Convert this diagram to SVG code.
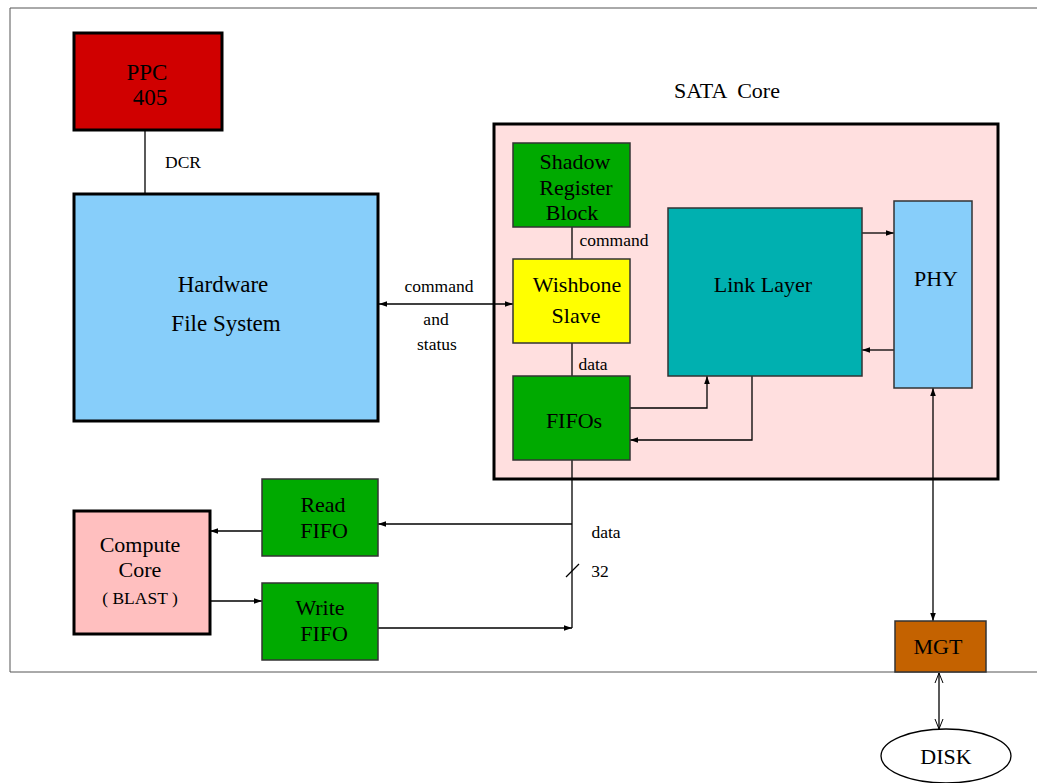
<svg xmlns="http://www.w3.org/2000/svg" width="1037" height="783" viewBox="0 0 1037 783">
<defs>
<style>
text{font-family:"Liberation Serif","Times New Roman",serif;fill:#000;text-anchor:middle}
.big{font-size:22px}
.hg{font-size:23px}
.sm{font-size:17.5px}
.thick{stroke:#000;stroke-width:3}
.thin{stroke:#333;stroke-width:1.5}
.ln{stroke:#000;stroke-width:1.3;fill:none}
</style>
<marker id="ah" viewBox="0 0 10 10" refX="10" refY="5" markerWidth="10" markerHeight="8" orient="auto-start-reverse" markerUnits="userSpaceOnUse"><path d="M0,1.5 L10,5 L0,8.5 z" fill="#000"/></marker>
<marker id="oa" viewBox="0 0 10 10" refX="10" refY="5" markerWidth="14" markerHeight="10" orient="auto-start-reverse" markerUnits="userSpaceOnUse"><path d="M0,1 L10,5 L0,9" fill="none" stroke="#000" stroke-width="1"/></marker>
</defs>
<rect width="1037" height="783" fill="#fff"/>
<path d="M1037,8 H10 V672 H1037" fill="none" stroke="#555" stroke-width="1"/>

<g id="sata-core">
<rect x="494" y="124" width="504" height="355" fill="#ffdfdf" class="thick"/>
<text x="727" y="98" class="big" xml:space="preserve" style="white-space:pre">SATA  Core</text>
</g>

<g id="connectors">
<line x1="145" y1="130" x2="145" y2="194" class="ln"/>
<text x="183" y="168" class="sm">DCR</text>
<line x1="379" y1="304" x2="513" y2="304" class="ln" marker-start="url(#ah)" marker-end="url(#ah)"/>
<text x="439" y="292" class="sm">command</text>
<text x="436" y="325" class="sm">and</text>
<text x="437" y="350" class="sm">status</text>
<line x1="572" y1="227" x2="572" y2="259" class="ln"/>
<text x="614" y="246" class="sm">command</text>
<line x1="572" y1="343" x2="572" y2="376" class="ln"/>
<text x="593" y="370" class="sm">data</text>
<line x1="862" y1="233" x2="894" y2="233" class="ln" marker-end="url(#ah)"/>
<line x1="894" y1="350" x2="862" y2="350" class="ln" marker-end="url(#ah)"/>
<polyline points="630,408 707,408 707,376" class="ln" marker-end="url(#ah)"/>
<polyline points="752,376 752,440 630,440" class="ln" marker-end="url(#ah)"/>
<line x1="933" y1="388" x2="933" y2="621" class="ln" marker-start="url(#ah)" marker-end="url(#ah)"/>
<line x1="939" y1="673" x2="939" y2="729" class="ln" marker-start="url(#oa)" marker-end="url(#oa)"/>
<line x1="572" y1="460" x2="572" y2="628" class="ln"/>
<line x1="378" y1="628" x2="572" y2="628" class="ln" marker-end="url(#ah)"/>
<line x1="572" y1="524" x2="378" y2="524" class="ln" marker-end="url(#ah)"/>
<line x1="566" y1="577" x2="579" y2="564" class="ln"/>
<text x="606" y="538" class="sm">data</text>
<text x="600" y="577" class="sm">32</text>
<line x1="262" y1="531" x2="210" y2="531" class="ln" marker-end="url(#ah)"/>
<line x1="210" y1="601" x2="262" y2="601" class="ln" marker-end="url(#ah)"/>
</g>

<g id="ppc405">
<rect x="74" y="33" width="148" height="97" fill="#d00000" class="thick"/>
<text x="147" y="80" class="hg">PPC</text>
<text x="150" y="105" class="hg">405</text>
</g>

<g id="hfs">
<rect x="74" y="194" width="304" height="227" fill="#87cefa" class="thick"/>
<text x="223" y="292" class="hg">Hardware</text>
<text x="226" y="331" class="hg">File System</text>
</g>

<g id="shadow">
<rect x="513" y="143" width="117" height="84" fill="#00aa00" class="thin"/>
<text x="575" y="169" class="big">Shadow</text>
<text x="576" y="195" class="big">Register</text>
<text x="572" y="220" class="big">Block</text>
</g>

<g id="wishbone">
<rect x="513" y="259" width="117" height="84" fill="#ffff00" class="thin"/>
<text x="577" y="292" class="big">Wishbone</text>
<text x="576" y="323" class="big">Slave</text>
</g>

<g id="fifos">
<rect x="513" y="376" width="117" height="84" fill="#00aa00" class="thin"/>
<text x="574" y="428" class="big">FIFOs</text>
</g>

<g id="linklayer">
<rect x="668" y="208" width="194" height="168" fill="#00b0b0" class="thin"/>
<text x="763" y="292" class="big">Link Layer</text>
</g>

<g id="phy">
<rect x="894" y="201" width="78" height="187" fill="#87cefa" class="thin"/>
<text x="936" y="286" class="big">PHY</text>
</g>

<g id="mgt">
<rect x="895" y="621" width="91" height="51" fill="#c46200" class="thin"/>
<text x="938" y="654" class="big">MGT</text>
</g>

<g id="disk">
<ellipse cx="946" cy="756" rx="65" ry="27" fill="#fff" stroke="#000" stroke-width="1.3"/>
<text x="946" y="764" class="big">DISK</text>
</g>

<g id="readfifo">
<rect x="262" y="479" width="116" height="77" fill="#00aa00" class="thin"/>
<text x="323" y="512" class="big">Read</text>
<text x="324" y="538" class="big">FIFO</text>
</g>

<g id="writefifo">
<rect x="262" y="583" width="116" height="77" fill="#00aa00" class="thin"/>
<text x="320" y="615" class="big">Write</text>
<text x="324" y="641" class="big">FIFO</text>
</g>

<g id="compute">
<rect x="74" y="511" width="136" height="123" fill="#ffbfbf" class="thick"/>
<text x="140" y="552" class="big">Compute</text>
<text x="140" y="577" class="big">Core</text>
<text x="140" y="604" class="sm">( BLAST )</text>
</g>
</svg>
